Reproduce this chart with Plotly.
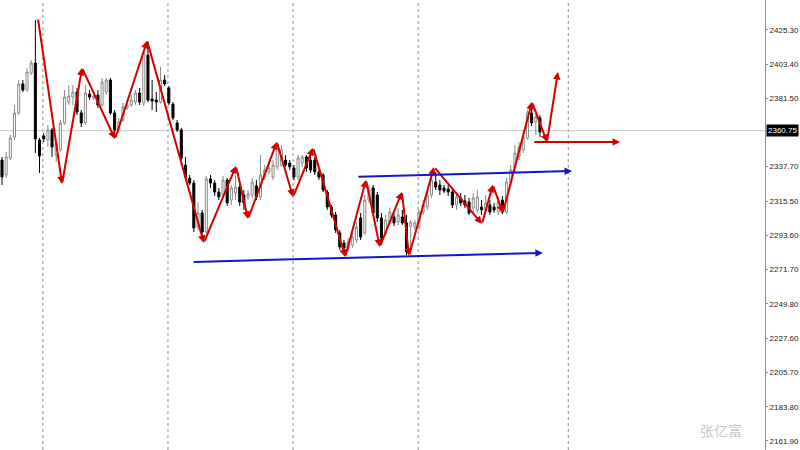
import plotly.graph_objects as go

# ---- candle data (prices) ----
opens = [2341.9,2332.3,2343.2,2356.7,2372.1,2390.7,2386.8,2397.7,2404.1,2354.8,
         2357.3,2354.8,2361.2,2345.1,2348.4,2365.7,2379.1,2382.3,2385.5,2372.1,
         2365.7,2384.2,2381.7,2383.6,2377.2,2385.5,2393.2,2372.1,2361.2,2367.6,
         2375.3,2377.2,2379.1,2384.9,2378.5,2409.2,2381.0,2380.4,2379.1,2393.2,
         2388.1,2377.8,2365.7,2361.2,2338.7,2330.4,2327.2,2299.0,2308.0,2295.8,
         2329.8,2327.2,2321.4,2319.5,2329.1,2316.3,2320.8,2324.6,2319.5,2318.2,
         2319.5,2325.3,2318.2,2331.0,2334.3,2331.0,2337.5,2338.7,2341.9,2340.0,
         2336.8,2331.0,2340.0,2343.9,2341.9,2341.9,2334.3,2332.3,2321.4,2311.8,
         2306.7,2295.2,2288.7,2285.5,2287.5,2290.7,2304.8,2295.2,2316.3,2324.0,
         2319.5,2304.8,2295.2,2302.2,2305.4,2302.2,2305.4,2301.6,2299.6,2299.0,
         2299.0,2308.6,2311.8,2319.5,2327.8,2325.9,2324.0,2323.4,2321.4,2313.1,
         2317.6,2315.7,2315.0,2311.2,2309.9,2311.8,2309.9,2313.1,2311.8,2308.6,
         2316.3,2308.6,2327.8,2336.8,2344.5,2348.4,2356.0,2372.1,2366.3,2368.9]
highs = [2343.9,2347.1,2358.0,2377.2,2393.2,2393.2,2400.9,2406.0,2431.7,2356.0,
         2359.3,2364.4,2362.5,2354.8,2367.6,2386.8,2390.0,2390.0,2388.1,2374.0,
         2390.0,2386.8,2385.5,2386.8,2394.5,2394.5,2394.5,2374.0,2368.9,2378.5,
         2380.4,2383.6,2386.8,2388.1,2412.5,2418.2,2393.2,2385.5,2401.6,2396.4,
         2389.4,2379.1,2367.6,2362.5,2343.9,2332.3,2329.1,2315.0,2309.9,2331.7,
         2332.3,2329.1,2324.0,2331.7,2330.4,2325.9,2332.3,2327.2,2322.7,2322.7,
         2330.4,2329.1,2345.1,2338.7,2340.7,2341.9,2353.5,2351.6,2345.1,2341.9,
         2338.7,2345.1,2345.1,2345.1,2348.4,2343.9,2335.5,2333.6,2322.7,2313.1,
         2308.6,2297.1,2290.7,2291.9,2295.8,2302.2,2308.0,2319.5,2325.9,2325.9,
         2321.4,2308.0,2306.7,2311.2,2308.0,2311.2,2309.9,2306.7,2303.5,2303.5,
         2309.9,2316.3,2322.7,2332.3,2334.3,2329.1,2325.9,2325.9,2324.0,2321.4,
         2320.8,2319.5,2317.6,2320.8,2322.7,2316.3,2319.5,2316.3,2314.4,2318.2,
         2318.9,2330.4,2338.7,2351.6,2353.5,2361.2,2374.0,2376.6,2374.0,2370.8]
lows = [2325.9,2330.4,2341.9,2354.8,2370.8,2385.5,2385.5,2396.4,2346.4,2333.6,
        2353.5,2350.3,2343.9,2340.7,2347.1,2364.4,2377.2,2377.2,2370.8,2363.1,
        2364.4,2380.4,2380.4,2375.3,2375.9,2383.6,2370.8,2356.7,2359.3,2366.3,
        2374.0,2375.9,2377.2,2377.2,2376.6,2379.1,2374.0,2372.7,2377.8,2389.4,
        2377.2,2367.6,2359.9,2341.9,2329.1,2325.9,2295.8,2297.1,2293.2,2294.5,
        2324.0,2318.9,2316.3,2317.6,2312.5,2313.1,2316.3,2312.5,2309.9,2316.3,
        2317.6,2316.3,2316.3,2329.1,2332.3,2329.1,2335.5,2337.5,2337.5,2335.5,
        2329.1,2329.1,2337.5,2334.3,2333.6,2332.3,2329.1,2321.4,2309.9,2304.8,
        2295.2,2284.3,2281.0,2283.0,2285.5,2288.7,2290.7,2293.9,2314.4,2306.0,
        2302.2,2289.4,2293.2,2300.3,2299.6,2300.3,2300.3,2281.0,2282.3,2297.1,
        2297.1,2306.7,2309.9,2317.6,2322.7,2319.5,2320.8,2318.9,2311.2,2309.9,
        2312.5,2311.2,2306.7,2308.6,2308.0,2306.7,2308.0,2306.7,2308.0,2306.7,
        2307.3,2307.3,2325.9,2334.3,2341.9,2346.4,2354.8,2363.7,2358.0,2356.7]
closes = [2331.0,2343.9,2356.0,2372.1,2390.7,2386.8,2398.3,2404.1,2355.4,2344.5,
          2355.4,2361.2,2350.3,2352.8,2365.7,2382.3,2383.0,2385.5,2372.7,2365.7,
          2384.9,2382.3,2383.0,2377.2,2391.9,2393.2,2372.1,2361.2,2366.3,2375.9,
          2377.2,2380.4,2384.9,2379.1,2410.5,2380.4,2379.8,2379.1,2393.2,2390.7,
          2378.5,2368.9,2361.2,2343.2,2331.0,2327.2,2298.4,2308.0,2295.8,2329.8,
          2327.2,2321.4,2318.2,2329.1,2314.4,2324.0,2324.6,2315.0,2314.4,2320.2,
          2327.8,2318.2,2332.3,2335.5,2336.8,2338.7,2351.6,2348.4,2338.7,2337.5,
          2331.0,2343.2,2343.9,2336.8,2335.5,2334.3,2331.0,2322.7,2311.8,2306.7,
          2297.1,2286.2,2285.5,2289.4,2292.6,2299.0,2292.6,2316.3,2322.7,2308.0,
          2304.8,2291.9,2303.5,2308.6,2301.6,2306.7,2301.6,2283.0,2302.2,2301.6,
          2308.6,2313.1,2319.5,2329.1,2324.6,2322.7,2322.1,2321.4,2313.1,2318.2,
          2314.4,2313.1,2308.0,2317.6,2318.2,2309.9,2314.4,2308.6,2309.9,2315.0,
          2308.6,2327.8,2335.5,2346.4,2350.3,2356.7,2372.1,2365.7,2369.5,2359.9]
bars = list(range(len(opens)))

# ---- drawn objects ----
zigzag_x = [8.6, 14.4, 19.2, 27.1, 34.8, 48.4, 56.1, 59.0, 65.9, 69.8, 74.6, 82.3,
            87.3, 90.6, 95.9, 97.6, 103.6, 115.1, 117.7, 120.1, 127.1, 130.7, 133.3]
zigzag_y = [2433.0, 2326.6, 2401.0, 2355.4, 2418.3, 2288.8, 2338.1, 2304.2, 2353.5,
            2318.3, 2349.7, 2279.8, 2329.2, 2286.2, 2321.5, 2280.5, 2337.5, 2301.0,
            2326.0, 2308.0, 2379.2, 2353.5, 2398.4]
red_h_x = [127.3, 148.2]
red_h_y = [2353.5, 2353.5]
blue_up_x = [85.1, 136.7]
blue_up_y = [2331.1, 2334.9]
blue_lo_x = [45.6, 129.7]
blue_lo_y = [2276.6, 2282.4]
separators = [9.8, 39.8, 69.8, 99.8, 135.8]
current_price = 2360.75
tick_values = [2425.30, 2403.40, 2381.50, 2337.70, 2315.50, 2293.60, 2271.70,
               2249.80, 2227.60, 2205.70, 2183.80, 2161.90]
watermark = "张亿富"

RED = "#d40000"
BLUE = "#1414c8"

fig = go.Figure()
fig.add_trace(go.Candlestick(
    x=bars, open=opens, high=highs, low=lows, close=closes,
    increasing=dict(line=dict(color="#8a8a8a", width=1), fillcolor="white"),
    decreasing=dict(line=dict(color="black", width=1), fillcolor="black"),
    whiskerwidth=0, showlegend=False, hoverinfo="skip"))

shapes = []
for s in separators:
    shapes.append(dict(type="line", xref="x", yref="paper", x0=s, x1=s, y0=0, y1=1,
                       line=dict(color="#8c8c8c", width=1, dash="dot"), layer="below"))
shapes.append(dict(type="line", xref="paper", yref="y", x0=0, x1=1,
                   y0=current_price, y1=current_price,
                   line=dict(color="#c8c8c8", width=1), layer="below"))

annotations = []
def arrow(x0, y0, x1, y1, color):
    annotations.append(dict(x=x1, y=y1, ax=x0, ay=y0, xref="x", yref="y",
                            axref="x", ayref="y", text="", showarrow=True,
                            arrowhead=2, arrowsize=0.75, arrowwidth=2,
                            arrowcolor=color, standoff=0, startstandoff=0))

for k in range(len(zigzag_x) - 1):
    arrow(zigzag_x[k], zigzag_y[k], zigzag_x[k + 1], zigzag_y[k + 1], RED)
arrow(red_h_x[0], red_h_y[0], red_h_x[1], red_h_y[1], RED)
arrow(blue_up_x[0], blue_up_y[0], blue_up_x[1], blue_up_y[1], BLUE)
arrow(blue_lo_x[0], blue_lo_y[0], blue_lo_x[1], blue_lo_y[1], BLUE)

annotations.append(dict(xref="paper", yref="y", x=1, y=current_price, xanchor="left",
                        yanchor="middle", xshift=1, text=f"{current_price:.2f}",
                        showarrow=False, bgcolor="black", borderpad=1,
                        font=dict(color="white", size=8, family="Liberation Sans")))
annotations.append(dict(xref="paper", yref="paper", x=721 / 765, y=1 - 430 / 450,
                        xanchor="center", yanchor="middle",
                        text=watermark, showarrow=False,
                        font=dict(color="#c8c8c8", size=14, family="Noto Sans CJK SC")))

fig.update_layout(
    width=800, height=450,
    margin=dict(l=0, r=35, t=0, b=0),
    paper_bgcolor="white", plot_bgcolor="white",
    shapes=shapes, annotations=annotations,
    xaxis=dict(range=[-0.48, 182.97], showgrid=False, zeroline=False,
               showticklabels=False, rangeslider=dict(visible=False), fixedrange=True),
    yaxis=dict(range=[2156.05, 2444.5], side="right", showgrid=False, zeroline=False,
               showline=True, linecolor="#8c8c8c", linewidth=1, fixedrange=True,
               tickvals=tick_values, ticktext=[f"{v:.2f}" for v in tick_values],
               ticks="outside", ticklen=2, tickcolor="#8c8c8c",
               tickfont=dict(size=8, color="#222", family="Liberation Sans"),
               automargin=False),
)

fig.write_html("out.html", config={"displayModeBar": False},
               post_script="document.body.style.margin='0';")
